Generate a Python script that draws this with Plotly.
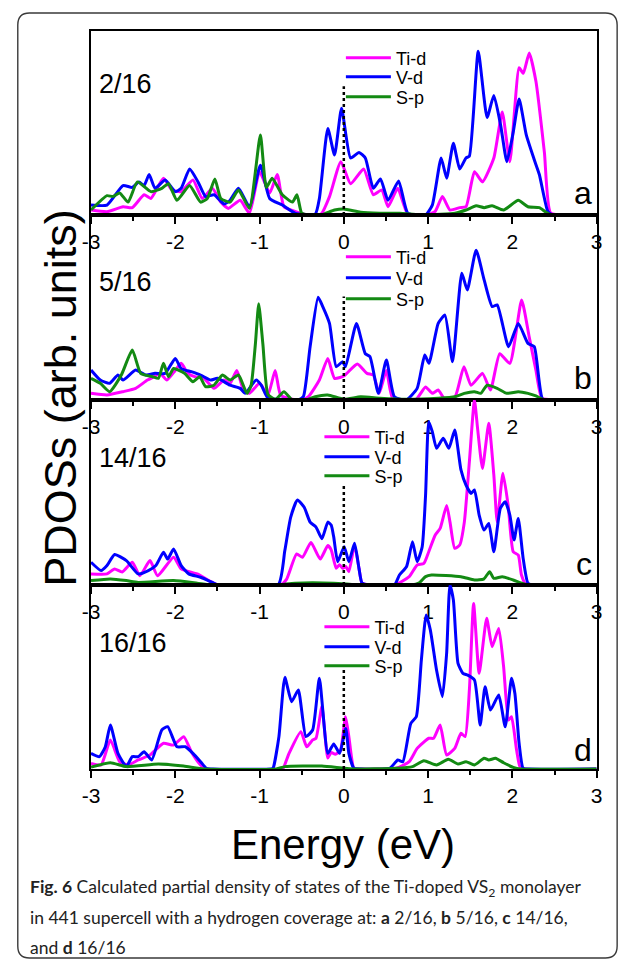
import plotly.graph_objects as go

W, H = 629, 960

# ---------------- data (energy eV, PDOS in % of panel height) ----------------
panel_names = ["2/16", "5/16", "14/16", "16/16"]
panel_letters = ["a", "b", "c", "d"]
species = ["Ti-d", "V-d", "S-p"]
colors = ["#FF00FF", "#0000FF", "#138A13"]

a_ti = [(-3.0, 2.7), (-2.81, 1.8), (-2.62, 4.5), (-2.51, 4), (-2.37, 11), (-2.29, 9), (-2.14, 20), (-2.04, 13.6),
        (-1.93, 12.7), (-1.79, 19), (-1.68, 9), (-1.56, 14.5), (-1.46, 7), (-1.37, 3.6), (-1.23, 8), (-1.12, 1),
        (-1.0, 23.5), (-0.88, 12), (-0.79, 22), (-0.71, 4.5), (-0.58, 2), (-0.42, 0), (-0.27, 0.5), (-0.17, 10),
        (-0.035, 29), (0.08, 17), (0.235, 25), (0.35, 11), (0.45, 13.6), (0.525, 4.5), (0.64, 14.5), (0.76, 0.4),
        (0.99, 0), (1.085, 2), (1.17, 10), (1.26, 2.7), (1.375, 4), (1.45, 4.5), (1.55, 23.5), (1.645, 18),
        (1.78, 31), (1.88, 56), (1.97, 29), (2.08, 80), (2.13, 77), (2.2, 88), (2.28, 72.5), (2.38, 34),
        (2.455, 1), (2.67, 0), (3.0, 0)]
a_v = [(-3.0, 5.4), (-2.81, 5.4), (-2.62, 16), (-2.51, 15), (-2.43, 18), (-2.37, 16), (-2.31, 22), (-2.24, 14.5),
       (-2.12, 19), (-2.0, 12.7), (-1.93, 14.5), (-1.83, 25), (-1.73, 18), (-1.64, 10), (-1.54, 11), (-1.42, 6),
       (-1.35, 8), (-1.25, 14.5), (-1.12, 4.5), (-0.99, 27), (-0.88, 9), (-0.73, 5.4), (-0.58, 1), (-0.34, 0.4),
       (-0.29, 9), (-0.19, 47), (-0.11, 32.6), (-0.027, 58), (0.08, 31), (0.18, 34), (0.255, 31), (0.35, 14.5),
       (0.435, 19.6), (0.525, 8), (0.65, 18.5), (0.76, 1), (0.97, 0), (1.05, 5.4), (1.155, 31), (1.22, 20),
       (1.3, 39), (1.375, 25), (1.45, 31), (1.49, 32), (1.595, 89), (1.7, 53), (1.78, 65), (1.86, 49),
       (1.935, 29), (2.01, 45), (2.08, 63), (2.165, 43.5), (2.26, 30), (2.32, 22), (2.42, 2), (2.475, 0), (3.0, 0)]
a_s = [(-3.0, 2.7), (-2.81, 10.5), (-2.74, 10), (-2.66, 12), (-2.56, 7), (-2.45, 18), (-2.29, 12.7), (-2.16, 14.5),
       (-2.08, 17), (-1.98, 8), (-1.83, 16), (-1.7, 7), (-1.62, 9), (-1.53, 19.6), (-1.46, 9), (-1.35, 7),
       (-1.25, 13.6), (-1.12, 3.6), (-0.99, 43.5), (-0.92, 15), (-0.85, 20), (-0.73, 11), (-0.61, 7), (-0.556, 11),
       (-0.5, 1), (-0.42, 0), (-0.27, 0), (-0.11, 2.7), (0.0, 3.3), (0.2, 1.5), (0.43, 1), (0.66, 1), (0.97, 0),
       (1.32, 1), (1.45, 2.7), (1.57, 5), (1.665, 4), (1.76, 5), (1.895, 2.7), (2.07, 8), (2.185, 4.5), (2.32, 4),
       (2.44, 0.4), (3.0, 0)]

b_ti = [(-3.0, 3.6), (-2.81, 2.7), (-2.62, 4.5), (-2.47, 6.3), (-2.33, 10.8), (-2.25, 12.6), (-2.18, 14.4),
        (-2.1, 10.8), (-2.0, 16), (-1.93, 19.8), (-1.85, 14.4), (-1.77, 12.6), (-1.66, 11.7), (-1.54, 6.3),
        (-1.42, 10.8), (-1.35, 9), (-1.27, 16), (-1.19, 5.4), (-1.12, 3.6), (-1.0, 9), (-0.9, 2.7), (-0.815, 16),
        (-0.75, 2.7), (-0.61, 0.4), (-0.5, 0), (-0.42, 1.8), (-0.29, 10.8), (-0.19, 22.5), (-0.11, 11.7),
        (0.0, 13), (0.16, 19.5), (0.275, 14.4), (0.35, 13.5), (0.42, 3.6), (0.505, 16), (0.58, 1), (0.85, 0),
        (0.97, 7), (1.05, 3.6), (1.12, 5.4), (1.2, 0.4), (1.32, 1.8), (1.425, 18), (1.51, 8), (1.645, 14.4),
        (1.74, 5.4), (1.85, 25), (1.97, 19.8), (2.11, 54), (2.2, 34), (2.28, 16), (2.35, 1), (2.5, 0), (3.0, 0)]
b_v = [(-3.0, 16.2), (-2.89, 10.8), (-2.78, 9), (-2.68, 13.5), (-2.62, 10.8), (-2.47, 16.2), (-2.35, 13.5),
       (-2.24, 14.4), (-2.12, 14.4), (-2.0, 22.5), (-1.93, 17), (-1.81, 15.3), (-1.7, 13.5), (-1.58, 10.8),
       (-1.5, 11.7), (-1.35, 8), (-1.23, 6.3), (-1.17, 3.6), (-1.04, 10.8), (-0.98, 8), (-0.9, 1), (-0.73, 0.4),
       (-0.54, 0), (-0.48, 1.8), (-0.4, 28.8), (-0.305, 55.5), (-0.25, 50.5), (-0.17, 41.4), (-0.09, 18),
       (-0.015, 20.7), (0.02, 18), (0.15, 41.4), (0.255, 25), (0.31, 23.4), (0.41, 3.6), (0.505, 21.6),
       (0.6, 1.8), (0.74, 0), (0.87, 6.3), (0.96, 24.3), (1.01, 19.8), (1.12, 41.4), (1.2, 45.9), (1.29, 20.7),
       (1.4, 68.5), (1.465, 59.5), (1.57, 81), (1.665, 64.9), (1.76, 50.5), (1.82, 51.4), (1.955, 28.8),
       (2.07, 41.4), (2.185, 30.6), (2.26, 28.8), (2.36, 0.4), (2.5, 0), (3.0, 0)]
b_s = [(-3.0, 11.7), (-2.89, 9), (-2.78, 4.5), (-2.64, 13.5), (-2.51, 27), (-2.41, 14.4), (-2.27, 12.6),
       (-2.2, 11.7), (-2.14, 19.8), (-2.08, 12.6), (-2.02, 17), (-1.89, 14.4), (-1.79, 9.9), (-1.71, 12.6),
       (-1.64, 7.2), (-1.54, 8), (-1.44, 13.5), (-1.35, 10.8), (-1.25, 13.5), (-1.15, 3.6), (-1.1, 8),
       (-1.05, 30), (-1.01, 52), (-0.96, 30), (-0.9, 3), (-0.81, 0.4), (-0.71, 4.5), (-0.61, 0), (-0.45, 0),
       (-0.34, 1.8), (-0.19, 2.7), (0.0, 0.4), (0.2, 1.8), (0.43, 1), (0.74, 0.4), (1.12, 1), (1.32, 1.8),
       (1.43, 3.6), (1.55, 4.5), (1.625, 3.6), (1.7, 8), (1.82, 6.3), (1.935, 3.6), (2.07, 4.5), (2.185, 3.6),
       (2.28, 2.2), (2.36, 0.4), (3.0, 0)]

c_ti = [(-3.0, 6), (-2.81, 6), (-2.72, 8.7), (-2.63, 7), (-2.51, 12.3), (-2.42, 5), (-2.3, 13.2), (-2.21, 5),
        (-2.02, 15), (-1.93, 8.7), (-1.74, 6), (-1.56, 1.4), (-1.49, 0), (-0.75, 0), (-0.68, 3), (-0.56, 16.8),
        (-0.49, 15), (-0.39, 23), (-0.28, 14), (-0.19, 21.3), (-0.15, 19), (-0.09, 9), (-0.05, 11),
        (-0.015, 9), (0.023, 10), (0.06, 7.2), (0.127, 21.6), (0.18, 9), (0.216, 1), (0.3, 0), (0.6, 0),
        (0.776, 4.5), (0.87, 10.8), (0.95, 11.7), (1.008, 18), (1.085, 27), (1.143, 30.6), (1.22, 43),
        (1.26, 34), (1.316, 19.8), (1.375, 21.6), (1.43, 34), (1.49, 66.7), (1.55, 100), (1.587, 84.7),
        (1.645, 63), (1.72, 87.4), (1.78, 59.5), (1.82, 34), (1.888, 60.4), (1.95, 43), (2.01, 18),
        (2.07, 16.2), (2.108, 5.4), (2.166, 0), (3.0, 0)]
c_v = [(-3.0, 12.3), (-2.88, 7.8), (-2.81, 10.5), (-2.72, 16.5), (-2.58, 13.2), (-2.44, 6), (-2.32, 7.8),
       (-2.23, 10.5), (-2.14, 17.7), (-2.09, 14), (-2.02, 19.5), (-1.93, 10.5), (-1.84, 6), (-1.7, 4.2),
       (-1.56, 1.4), (-1.49, 0), (-0.78, 0), (-0.7, 18.6), (-0.63, 36.7), (-0.55, 46), (-0.47, 42), (-0.4, 34),
       (-0.33, 31.3), (-0.26, 25), (-0.19, 34), (-0.15, 32.4), (-0.12, 26), (-0.073, 12.6), (0.004, 20.7),
       (0.06, 12.6), (0.127, 22.5), (0.18, 9), (0.216, 1), (0.3, 0), (0.6, 0), (0.66, 5.4), (0.745, 10),
       (0.815, 23.4), (0.87, 12.6), (0.93, 20.7), (0.97, 48.6), (1.008, 88.3), (1.05, 82.9), (1.1, 73.9),
       (1.18, 79.3), (1.247, 73.9), (1.316, 83.8), (1.39, 62.2), (1.45, 54), (1.51, 49.5), (1.55, 51.4),
       (1.606, 37.8), (1.664, 29.7), (1.72, 33.3), (1.78, 18), (1.857, 41.4), (1.915, 45), (1.97, 37.8),
       (2.02, 24.3), (2.07, 36), (2.128, 14.4), (2.185, 1), (2.25, 0), (3.0, 0)]
c_s = [(-3.0, 2.4), (-2.77, 3.3), (-2.58, 2.4), (-2.44, 1.4), (-2.02, 2.4), (-1.74, 1), (-1.56, 0), (-0.8, 0),
       (-0.58, 1), (-0.12, 1), (0.2, 0), (0.8, 0), (0.89, 1), (0.97, 4.5), (1.04, 5.4), (1.39, 4.5), (1.55, 2.7),
       (1.66, 3.2), (1.73, 7.2), (1.78, 3.6), (1.88, 4.5), (2.01, 2.7), (2.11, 1), (2.2, 0), (3.0, 0)]

d_ti = [(-3.0, 3), (-2.88, 2.2), (-2.77, 15.8), (-2.66, 4), (-2.56, 2.2), (-2.44, 4.9), (-2.3, 7.6), (-2.14, 14),
        (-2.02, 13), (-1.9, 17.6), (-1.81, 9.4), (-1.7, 2.2), (-1.63, 0), (-0.75, 0), (-0.72, 0.4), (-0.65, 8.5),
        (-0.51, 20.3), (-0.44, 12.1), (-0.37, 15.8), (-0.33, 16.7), (-0.26, 33.9), (-0.19, 6), (-0.15, 9),
        (-0.1, 8), (-0.04, 10), (0.02, 28.4), (0.06, 17.6), (0.12, 0.4), (0.2, 0), (0.62, 0.4), (0.776, 4),
        (0.87, 11.2), (1.008, 16.7), (1.066, 16.7), (1.143, 23.9), (1.22, 7.6), (1.316, 11.2), (1.39, 19.4),
        (1.44, 17.6), (1.49, 43), (1.54, 90), (1.606, 52), (1.695, 81.9), (1.76, 66.5), (1.838, 76.4),
        (1.896, 55.6), (1.954, 26.6), (1.99, 28.4), (2.05, 10.3), (2.09, 1.3), (2.15, 0), (3.0, 0)]
d_v = [(-3.0, 8.5), (-2.9, 6.7), (-2.83, 12.1), (-2.77, 23.9), (-2.68, 8.5), (-2.58, 1.3), (-2.51, 6.7),
       (-2.44, 6.7), (-2.37, 9.4), (-2.28, 4.9), (-2.16, 21.2), (-2.09, 23), (-1.98, 12.1), (-1.88, 12.1),
       (-1.79, 8.5), (-1.7, 4), (-1.63, 0.4), (-1.55, 0), (-0.86, 0), (-0.84, 0.4), (-0.77, 17.6), (-0.7, 49.8),
       (-0.62, 36.6), (-0.54, 42.9), (-0.45, 17.6), (-0.37, 21.2), (-0.29, 49.3), (-0.19, 8.5), (-0.12, 13.6),
       (-0.05, 8.5), (0.023, 22), (0.06, 8.5), (0.12, 0.4), (0.2, 0), (0.545, 0.4), (0.64, 4.9), (0.7, 4),
       (0.795, 24.8), (0.86, 28.4), (0.92, 59.2), (0.977, 83.7), (1.027, 75.5), (1.1, 53.8), (1.17, 39.3),
       (1.22, 62.9), (1.259, 100), (1.3, 91.8), (1.355, 57.4), (1.413, 52), (1.47, 51), (1.55, 48.4),
       (1.618, 23.9), (1.676, 44.7), (1.74, 32), (1.838, 40.2), (1.915, 23), (1.99, 49.3), (2.03, 41),
       (2.08, 14), (2.128, 0.4), (2.2, 0), (3.0, 0)]
d_s = [(-3.0, 1), (-2.77, 3.4), (-2.58, 1.3), (-2.2, 2.7), (-1.9, 1.6), (-1.65, 0), (-0.8, 0), (-0.7, 1.3),
       (-0.26, 1.6), (0.1, 0), (0.62, 0.4), (0.815, 1.3), (0.95, 4.5), (1.1, 2.2), (1.24, 5.3), (1.355, 2.7),
       (1.45, 4), (1.55, 2.2), (1.664, 5.8), (1.72, 4.9), (1.8, 5.8), (1.896, 3.4), (2.01, 0.9), (2.1, 0),
       (3.0, 0)]

panels = [[a_ti, a_v, a_s], [b_ti, b_v, b_s], [c_ti, c_v, c_s], [d_ti, d_v, d_s]]
fermi_line_height = [70, 56, 55, 56]

tick_vals = [-3, -2, -1, 0, 1, 2, 3]
tick_text = ["-3", "-2", "-1", "0", "1", "2", "3"]
minor_vals = [-2.5, -1.5, -0.5, 0.5, 1.5, 2.5]

x_title = "Energy (eV)"
y_title = "PDOSs (arb. units)"
caption = [
    "<b>Fig. 6</b> Calculated partial density of states of the Ti-doped VS<sub>2</sub> monolayer",
    "in 441 supercell with a hydrogen coverage at: <b>a</b> 2/16, <b>b</b> 5/16, <b>c</b> 14/16,",
    "and <b>d</b> 16/16",
]

# ---------------- layout helpers (pixel -> paper) ----------------
def px(x):
    return x / W


def py(y):
    return 1 - y / H


FONT = "Liberation Sans, Arial, sans-serif"
plot_left, plot_right = 84, 602
tops = [31, 215, 400, 585]
bottoms = [215, 400, 585, 769]
legend_x = [340, 340, 318, 318]
legend_y = [[58, 77, 97], [257, 278, 299], [437, 457, 476], [627, 647, 666]]
label_y = [84, 282, 458, 643]
letter_y = [193, 378, 564, 750]

fig = go.Figure()
layout = dict(
    width=W, height=H, margin=dict(l=0, r=0, t=0, b=0),
    paper_bgcolor="white", plot_bgcolor="rgba(0,0,0,0)",
    font=dict(family=FONT, color="black"),
    annotations=[], shapes=[],
)

for p in range(4):
    sfx = "" if p == 0 else str(p + 1)
    xa, ya = "x" + sfx, "y" + sfx
    for s in range(3):
        pts = panels[p][s]
        li = p * 3 + s + 1
        lname = "legend" if li == 1 else f"legend{li}"
        fig.add_trace(go.Scatter(
            x=[e for e, _ in pts], y=[v for _, v in pts], mode="lines",
            name=species[s], line=dict(color=colors[s], width=3, shape="spline", smoothing=0.5),
            xaxis=xa, yaxis=ya, legend=lname, showlegend=True, hoverinfo="skip"))
        layout[lname] = dict(
            x=px(legend_x[p]), y=py(legend_y[p][s]), xanchor="left", yanchor="middle",
            bgcolor="rgba(0,0,0,0)", borderwidth=0, itemwidth=45,
            font=dict(family=FONT, size=18, color="black"))
    fig.add_trace(go.Scatter(
        x=[0, 0], y=[0, fermi_line_height[p]], mode="lines",
        line=dict(color="black", width=2.5, dash="dot"),
        xaxis=xa, yaxis=ya, showlegend=False, hoverinfo="skip"))

    layout["xaxis" + sfx] = dict(
        domain=[px(plot_left), px(plot_right)], anchor=ya, range=[-3, 3],
        showline=True, linecolor="black", linewidth=1.6, mirror=True,
        ticks="outside", ticklen=7, tickwidth=1.6, tickcolor="black",
        tickmode="array", tickvals=tick_vals, ticktext=tick_text,
        tickfont=dict(family=FONT, size=21, color="black"),
        minor=dict(tickmode="array", tickvals=minor_vals, ticks="outside", ticklen=4,
                   tickwidth=1.6, tickcolor="black"),
        showgrid=False, zeroline=False, fixedrange=True)
    layout["yaxis" + sfx] = dict(
        domain=[py(bottoms[p]), py(tops[p])], anchor=xa, range=[0, 100],
        showline=True, linecolor="black", linewidth=1.6, mirror=True,
        showticklabels=False, ticks="", showgrid=False, zeroline=False, fixedrange=True)

    layout["annotations"].append(dict(
        text=panel_names[p], x=px(90), y=py(label_y[p]), xref="paper", yref="paper",
        xanchor="left", yanchor="middle", showarrow=False,
        font=dict(family=FONT, size=27, color="black")))
    layout["annotations"].append(dict(
        text=panel_letters[p], x=px(599), y=py(letter_y[p]), xref="paper", yref="paper",
        xanchor="right", yanchor="middle", showarrow=False,
        font=dict(family=FONT, size=32, color="black")))

layout["annotations"].append(dict(
    text=y_title, x=px(52), y=py(398), xref="paper", yref="paper", textangle=-90,
    xanchor="center", yanchor="middle", showarrow=False,
    font=dict(family=FONT, size=45, color="black")))
layout["annotations"].append(dict(
    text=x_title, x=px(342), y=py(844), xref="paper", yref="paper",
    xanchor="center", yanchor="middle", showarrow=False,
    font=dict(family=FONT, size=42, color="black")))
for i, line in enumerate(caption):
    layout["annotations"].append(dict(
        text=line, x=px(21), y=py(888 + 29.5 * i), xref="paper", yref="paper",
        xanchor="left", yanchor="middle", showarrow=False, align="left", borderpad=0,
        font=dict(family="Lato, Open Sans, sans-serif", size=17.5, color="#222")))

# rounded outer frame
x0, y0, x1, y1, r = 9, 13, 623, 958, 12
path = (f"M {px(x0 + r)},{py(y0)} L {px(x1 - r)},{py(y0)} Q {px(x1)},{py(y0)} {px(x1)},{py(y0 + r)} "
        f"L {px(x1)},{py(y1 - r)} Q {px(x1)},{py(y1)} {px(x1 - r)},{py(y1)} "
        f"L {px(x0 + r)},{py(y1)} Q {px(x0)},{py(y1)} {px(x0)},{py(y1 - r)} "
        f"L {px(x0)},{py(y0 + r)} Q {px(x0)},{py(y0)} {px(x0 + r)},{py(y0)} Z")
layout["shapes"].append(dict(type="path", path=path, xref="paper", yref="paper",
                             line=dict(color="#3a3a3a", width=1.4), layer="below"))

fig.update_layout(**layout)
fig.write_html("out.html", config={"displayModeBar": False},
               post_script="document.body.style.margin='0';document.body.style.overflow='hidden';")
